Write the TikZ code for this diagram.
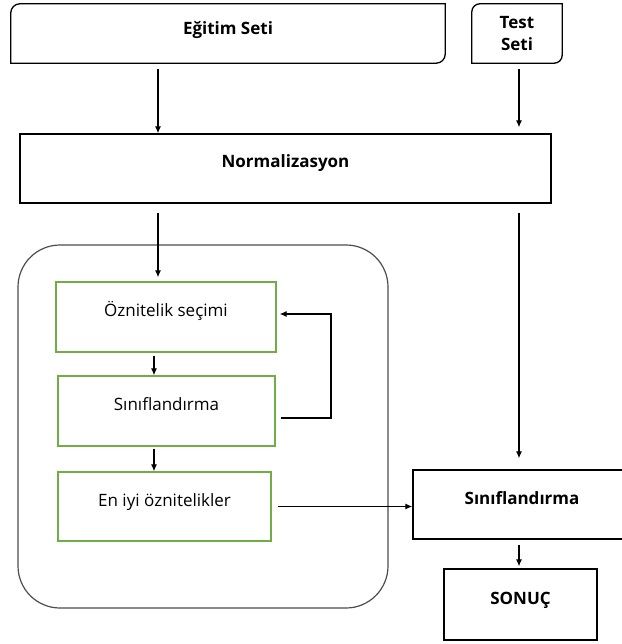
\documentclass[tikz,border=0pt]{standalone}
\usepackage{fontspec}
\setmainfont{Open Sans}
\usetikzlibrary{arrows.meta,positioning}
\definecolor{stepgreen}{RGB}{112,173,71}

\begin{document}
\begin{tikzpicture}[x=1pt,y=-1pt,
    every node/.style={font=\fontsize{17}{22}\selectfont},
    databox/.style={inner sep=0pt, font=\bfseries\fontsize{17}{22}\selectfont},
    mainbox/.style={draw, line width=1.3pt, inner sep=0pt, text height=13pt, text depth=14pt, font=\bfseries\fontsize{17}{22}\selectfont},
    stepbox/.style={draw=stepgreen, line width=1.3pt, inner sep=0pt, minimum height=70pt, text height=13pt, text depth=14pt},
    arr/.style={-{Latex[length=7pt,width=6pt]}, line width=1.2pt}
]
    \useasboundingbox (0,0) rectangle (621,644);

    % Input data
    \node[databox, minimum width=434pt, minimum height=59pt, text height=13pt, text depth=11pt] (egitim) at (228,33.5) {Eğitim Seti};
    \node[databox, minimum width=90pt, minimum height=59pt, align=center] (test) at (517,33.5) {Test\\Seti};
    \draw[line width=1.3pt] (egitim.south west) -- ([yshift=-9pt]egitim.north west) arc[start angle=180, end angle=90, radius=9pt]
        -- (egitim.north east) -- ([yshift=9pt]egitim.south east) arc[start angle=0, end angle=-90, radius=9pt] -- cycle;
    \draw[line width=1.3pt] (test.south west) -- ([yshift=-8pt]test.north west) arc[start angle=180, end angle=90, radius=8pt]
        -- (test.north east) -- ([yshift=8pt]test.south east) arc[start angle=0, end angle=-90, radius=8pt] -- cycle;

    % Normalization
    \node[mainbox, minimum width=531pt, minimum height=69pt] (norm) at (285.5,168.5) {Normalizasyon};

    % Feature selection group
    \node[draw=black!70, line width=1.2pt, rounded corners=42pt, minimum width=370pt, minimum height=363pt] (grp) at (203,426.5) {};
    \node[stepbox, minimum width=220pt] (sec) at (166,317) {Öznitelik seçimi};
    \node[stepbox, minimum width=217pt] (cls) at (166.5,411) {Sınıflandırma};
    \node[stepbox, minimum width=213pt, minimum height=69pt] (best) at (164.5,506.5) {En iyi öznitelikler};

    % Classification and result
    \node[mainbox, minimum width=218pt, minimum height=69pt] (clsr) at (522,504.5) {Sınıflandırma};
    \node[mainbox, minimum width=153pt, minimum height=71pt] (sonuc) at (520.5,604.5) {SONUÇ};

    % Arrow columns
    \coordinate (lcol) at (158,0);
    \coordinate (rcol) at (519,0);
    \coordinate (icol) at (154,0);
    \coordinate (fbl) at (331,418);
    \coordinate (fbu) at (331,314);

    \draw[arr] ([yshift=-6pt]egitim.south -| lcol) -- (norm.north -| lcol);
    \draw[arr] ([yshift=-6pt]test.south -| rcol) -- ([yshift=6pt]norm.north -| rcol);
    \draw[arr] ([yshift=-9pt]norm.south -| lcol) -- ([yshift=4pt]sec.north -| lcol);
    \draw[arr] ([yshift=-9pt]norm.south -| rcol) -- ([yshift=11pt]clsr.north -| rcol);
    \draw[arr] ([yshift=-3pt]sec.south -| icol) -- (cls.north -| icol);
    \draw[arr] ([yshift=-2pt]cls.south -| icol) -- (best.north -| icol);
    \draw[arr] ([xshift=5pt]cls.east |- fbl) -- (fbl) -- (fbu) -- ([xshift=3pt]sec.east |- fbu); % feedback loop
    \draw[arr] ([xshift=6pt]best.east) -- (best.east -| clsr.west);
    \draw[arr] ([yshift=-5pt]clsr.south -| rcol) -- ([yshift=2pt]sonuc.north -| rcol);

\end{tikzpicture}
\end{document}
